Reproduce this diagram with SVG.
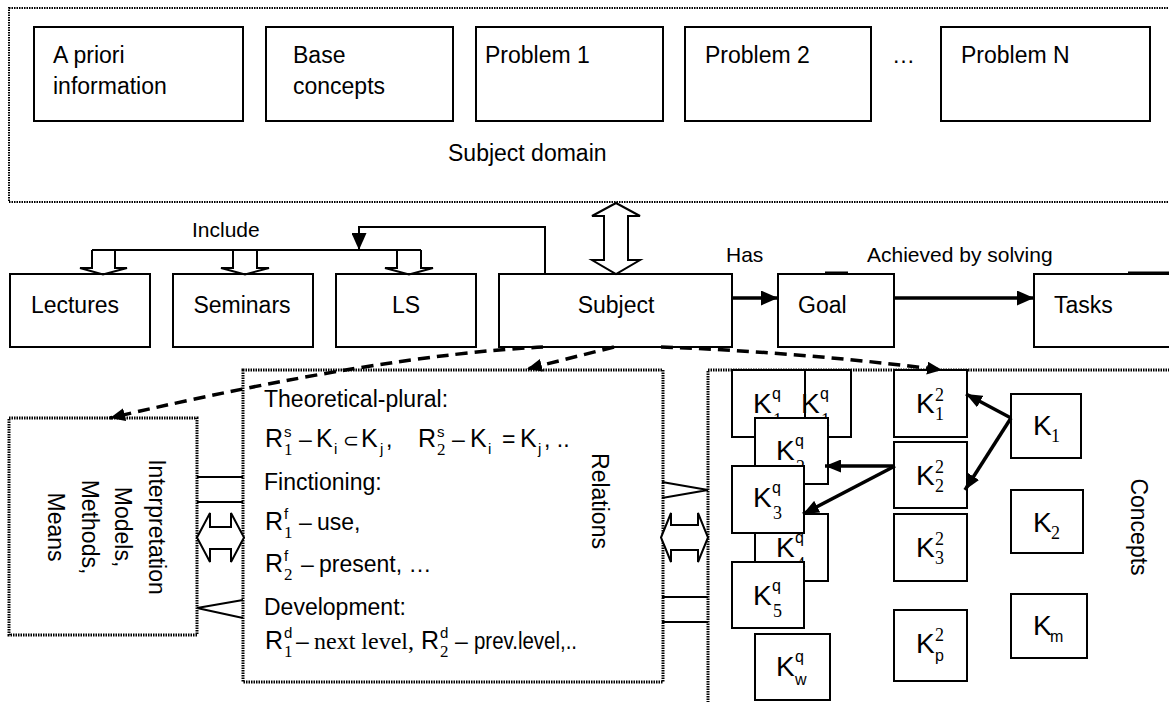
<svg xmlns="http://www.w3.org/2000/svg" width="1169" height="702" viewBox="0 0 1169 702">
<defs>
<style>
.bg{fill:#fff}
.box{fill:#fff;stroke:#000;stroke-width:2}
.frame{fill:none;stroke:#000;stroke-width:2;stroke-dasharray:1.5 1}
.frame2{fill:none;stroke:#000;stroke-width:3;stroke-dasharray:1.5 1}
.t{font-family:"Liberation Sans",Arial,sans-serif;font-size:23px;fill:#000}
.lbl{font-family:"Liberation Sans",Arial,sans-serif;font-size:21px;fill:#000}
.k{font-family:"Liberation Sans",Arial,sans-serif;font-size:28px;fill:#000}
.m{font-size:25px}
.sq{font-family:"Liberation Sans",Arial,sans-serif;font-size:16px;fill:#000}
.sd{font-family:"Liberation Serif","Times New Roman",serif;font-size:18px;fill:#000}
.sup{font-family:"Liberation Sans",Arial,sans-serif;font-size:15px}
.sub{font-family:"Liberation Serif","Times New Roman",serif;font-size:17px}
.subs{font-family:"Liberation Sans",Arial,sans-serif;font-size:15px}
.dash{fill:none;stroke:#000;stroke-width:3.5;stroke-dasharray:12 7}
.thick{fill:none;stroke:#000;stroke-width:3.5}
.thin{fill:none;stroke:#000;stroke-width:2}
.blk{fill:#fff;stroke:#000;stroke-width:2;stroke-linejoin:miter}
</style>
<marker id="ahD" markerUnits="userSpaceOnUse" markerWidth="15" markerHeight="13" refX="15" refY="6.5" orient="auto"><path d="M0,0 L15,6.5 L0,13 Z" fill="#000"/></marker>
<marker id="ahS" markerUnits="userSpaceOnUse" markerWidth="17" markerHeight="15" refX="17" refY="7.5" orient="auto"><path d="M0,0 L17,7.5 L0,15 Z" fill="#000"/></marker>
<marker id="ahC" markerUnits="userSpaceOnUse" markerWidth="16" markerHeight="13" refX="16" refY="6.5" orient="auto"><path d="M0,0 L16,6.5 L0,13 Z" fill="#000"/></marker>
<marker id="ahI" markerUnits="userSpaceOnUse" markerWidth="17" markerHeight="15" refX="17" refY="7.5" orient="auto"><path d="M0,0 L17,7.5 L0,15 Z" fill="#000"/></marker>
</defs>
<rect class="bg" x="0" y="0" width="1169" height="702"/>

<g id="subject-domain">
<rect class="frame" x="9" y="8" width="1170" height="194"/>
<text class="t" x="448" y="161">Subject domain</text>
</g>
<g id="apriori"><rect class="box" x="34" y="27" width="209" height="94"/><text class="t" x="53" y="63">A priori</text><text class="t" x="53" y="94">information</text></g>
<g id="base"><rect class="box" x="266" y="27" width="187" height="94"/><text class="t" x="293" y="63">Base</text><text class="t" x="293" y="94">concepts</text></g>
<g id="problem1"><rect class="box" x="476" y="27" width="187" height="94"/><text class="t" x="485" y="63">Problem 1</text></g>
<g id="problem2"><rect class="box" x="685" y="27" width="186" height="94"/><text class="t" x="705" y="63">Problem 2</text></g>
<text class="t" x="892" y="63">…</text>
<g id="problemN"><rect class="box" x="941" y="27" width="209" height="94"/><text class="t" x="961" y="63">Problem N</text></g>

<g id="lectures"><rect class="box" x="10" y="274" width="140" height="73"/><text class="t" x="75" y="313" text-anchor="middle">Lectures</text></g>
<g id="seminars"><rect class="box" x="173" y="274" width="140" height="73"/><text class="t" x="242" y="313" text-anchor="middle">Seminars</text></g>
<g id="ls"><rect class="box" x="336" y="274" width="140" height="73"/><text class="t" x="406" y="313" text-anchor="middle">LS</text></g>
<g id="subject"><rect class="box" x="499" y="274" width="233" height="73"/><text class="t" x="616" y="313" text-anchor="middle">Subject</text></g>
<g id="goal"><rect class="box" x="778" y="274" width="116" height="73"/><text class="t" x="798" y="313">Goal</text></g>
<g id="tasks"><rect class="box" x="1034" y="274" width="150" height="73"/><text class="t" x="1054" y="313">Tasks</text></g>
<g id="stray"><path class="thin" d="M825,272.5 H848 M1128,272.5 H1169"/></g>

<g id="interpretation">
<rect class="frame2" x="9" y="418" width="188" height="217"/>
<text class="t" text-anchor="middle" transform="translate(149,527) rotate(90)">Interpretation</text>
<text class="t" text-anchor="middle" transform="translate(115,527) rotate(90)">Models,</text>
<text class="t" text-anchor="middle" transform="translate(82,527) rotate(90)">Methods,</text>
<text class="t" text-anchor="middle" transform="translate(48,527) rotate(90)">Means</text>
</g>

<g id="relations">
<rect class="frame2" x="243" y="370" width="420" height="312"/>
<text class="t" x="264" y="407">Theoretical-plural:</text>
<text class="t" y="447"><tspan class="m" x="265">R</tspan><tspan class="sup" x="284" y="437">s</tspan><tspan class="sub" x="284" y="455">1</tspan><tspan x="299" y="447">–</tspan><tspan class="m" x="316">K</tspan><tspan class="subs" x="334" y="454">i</tspan><tspan x="343" y="447" style="font-family:'DejaVu Sans',sans-serif;font-size:19px">⊂</tspan><tspan class="m" x="361" y="447">K</tspan><tspan class="subs" x="380" y="454">j</tspan><tspan x="386" y="447">,</tspan><tspan class="m" x="418">R</tspan><tspan class="sup" x="437" y="437">s</tspan><tspan class="sub" x="437" y="455">2</tspan><tspan x="452" y="447">–</tspan><tspan class="m" x="470">K</tspan><tspan class="subs" x="488" y="454">i</tspan><tspan x="502" y="447">=</tspan><tspan class="m" x="520">K</tspan><tspan class="subs" x="538" y="454">j</tspan><tspan x="544" y="447">, ..</tspan></text>
<text class="t" x="264" y="490">Finctioning:</text>
<text class="t" y="530"><tspan class="m" x="265">R</tspan><tspan class="sup" x="284" y="519">f</tspan><tspan class="sub" x="284" y="538">1</tspan><tspan x="299" y="530">–</tspan><tspan x="317">use,</tspan></text>
<text class="t" y="572"><tspan class="m" x="265">R</tspan><tspan class="sup" x="284" y="561">f</tspan><tspan class="sub" x="284" y="580">2</tspan><tspan x="301" y="572">–</tspan><tspan x="319">present, …</tspan></text>
<text class="t" x="264" y="615">Development:</text>
<text class="t" y="649"><tspan class="m" x="265">R</tspan><tspan class="sup" x="284" y="638">d</tspan><tspan class="sub" x="284" y="657">1</tspan><tspan x="296" y="649">–</tspan><tspan x="314" style="font-family:'Liberation Serif',serif;font-size:24px">next level,</tspan><tspan class="m" x="421">R</tspan><tspan class="sup" x="440" y="638">d</tspan><tspan class="sub" x="440" y="657">2</tspan><tspan x="455" y="649">–</tspan><tspan x="474" textLength="103" lengthAdjust="spacingAndGlyphs">prev.level,..</tspan></text>
<text class="t" text-anchor="middle" transform="translate(592,501) rotate(90)">Relations</text>
</g>

<g id="concepts">
<rect class="frame2" x="708" y="370" width="480" height="345"/>
<text class="t" text-anchor="middle" transform="translate(1131,527) rotate(90)">Concepts</text>
</g>

<g id="k1q-a"><rect class="box" x="732" y="370" width="73" height="67"/><text class="k" x="753" y="413">K</text><text class="sq" x="772" y="399">q</text><text class="sd" x="773" y="426">1</text></g>
<g id="k1q-b"><rect class="box" x="805" y="370" width="46" height="67"/><text class="k" x="801" y="413">K</text><text class="sq" x="820" y="399">q</text><text class="sd" x="821" y="426">1</text></g>
<g id="k2q"><rect class="box" x="755" y="418" width="73" height="66"/><text class="k" x="776" y="460">K</text><text class="sq" x="795" y="446">q</text><text class="sd" x="796" y="473">2</text></g>
<g id="k4q"><rect class="box" x="755" y="514" width="73" height="67"/><text class="k" x="776" y="557">K</text><text class="sq" x="795" y="543">q</text><text class="sd" x="796" y="570">4</text></g>
<g id="k3q"><rect class="box" x="732" y="466" width="72" height="67"/><text class="k" x="753" y="507">K</text><text class="sq" x="772" y="493">q</text><text class="sd" x="773" y="519">3</text></g>
<g id="k5q"><rect class="box" x="732" y="562" width="72" height="66"/><text class="k" x="753" y="605">K</text><text class="sq" x="772" y="591">q</text><text class="sd" x="773" y="617">5</text></g>
<g id="kwq"><rect class="box" x="755" y="634" width="75" height="66"/><text class="k" x="776" y="676">K</text><text class="sq" x="795" y="662">q</text><text class="sq" x="795" y="685">w</text></g>
<g id="k12"><rect class="box" x="894" y="370" width="73" height="67"/><text class="k" x="916" y="413">K</text><text class="sd" x="935" y="401">2</text><text class="sd" x="935" y="420">1</text></g>
<g id="k22"><rect class="box" x="894" y="442" width="73" height="66"/><text class="k" x="916" y="485">K</text><text class="sd" x="935" y="473">2</text><text class="sd" x="935" y="492">2</text></g>
<g id="k32"><rect class="box" x="894" y="514" width="73" height="67"/><text class="k" x="916" y="557">K</text><text class="sd" x="935" y="545">2</text><text class="sd" x="935" y="564">3</text></g>
<g id="kp2"><rect class="box" x="894" y="610" width="73" height="71"/><text class="k" x="916" y="653">K</text><text class="sd" x="935" y="641">2</text><text class="sq" x="935" y="661">p</text></g>
<g id="k1"><rect class="box" x="1011" y="394" width="70" height="64"/><text class="k" x="1033" y="435">K</text><text class="sd" x="1051" y="442">1</text></g>
<g id="k2"><rect class="box" x="1011" y="490" width="72" height="63"/><text class="k" x="1033" y="532">K</text><text class="sd" x="1051" y="539">2</text></g>
<g id="km"><rect class="box" x="1011" y="594" width="76" height="64"/><text class="k" x="1033" y="635">K</text><text class="sq" x="1050" y="642">m</text></g>

<g id="connectors">
<text class="lbl" x="192" y="237">Include</text>
<text class="lbl" x="726" y="262">Has</text>
<text class="lbl" x="867" y="262">Achieved by solving</text>
<path class="thin" d="M545,274 V227 H359 V250" marker-end="url(#ahI)"/>
<path class="thin" d="M92,250 H421"/>
<path class="blk" style="fill:none" d="M92,250 V268 H80 L103,274.5 L127,268 H115 V250"/>
<path class="blk" style="fill:none" d="M233,250 V268 H221 L245,274.5 L269,268 H257 V250"/>
<path class="blk" style="fill:none" d="M397,250 V268 H385 L409,274.5 L433,268 H421 V250"/>
<path class="blk" d="M616,203 L640,216 L628,216 L628,260 L640,260 L616,274 L592,260 L604,260 L604,216 L592,216 Z"/>
<path class="thick" d="M732,298 H778" marker-end="url(#ahS)"/>
<path class="thick" d="M894,298 H1034" marker-end="url(#ahS)"/>
<path class="dash" d="M543,347 Q380,355 110,418" marker-end="url(#ahD)"/>
<path class="dash" d="M614,347 L527,369" marker-end="url(#ahD)"/>
<path class="dash" d="M661,347 Q800,352 942,370" marker-end="url(#ahD)"/>
<path class="thin" d="M197,477 H243 M197,502 H243 M243,600 L197,608 L243,618"/>
<path class="blk" d="M197,537.5 L210,513 L210,527 L231,527 L231,513 L244,537.5 L231,562 L231,549 L210,549 L210,562 Z"/>
<path class="thin" d="M662,482 L708,490 L662,498 M662,597 H708 M662,622 H708"/>
<path class="blk" d="M661,537.5 L671,513 L671,525 L698,525 L698,513 L708,537.5 L698,562 L698,550 L671,550 L671,562 Z"/>
<path class="thick" d="M1011,418 L966,394" marker-end="url(#ahC)"/>
<path class="thick" d="M1011,418 L965,490" marker-end="url(#ahC)"/>
<path class="thick" d="M895,466 L825,466" marker-end="url(#ahC)"/>
<path class="thick" d="M895,466 L803,514" marker-end="url(#ahC)"/>
</g>
</svg>
